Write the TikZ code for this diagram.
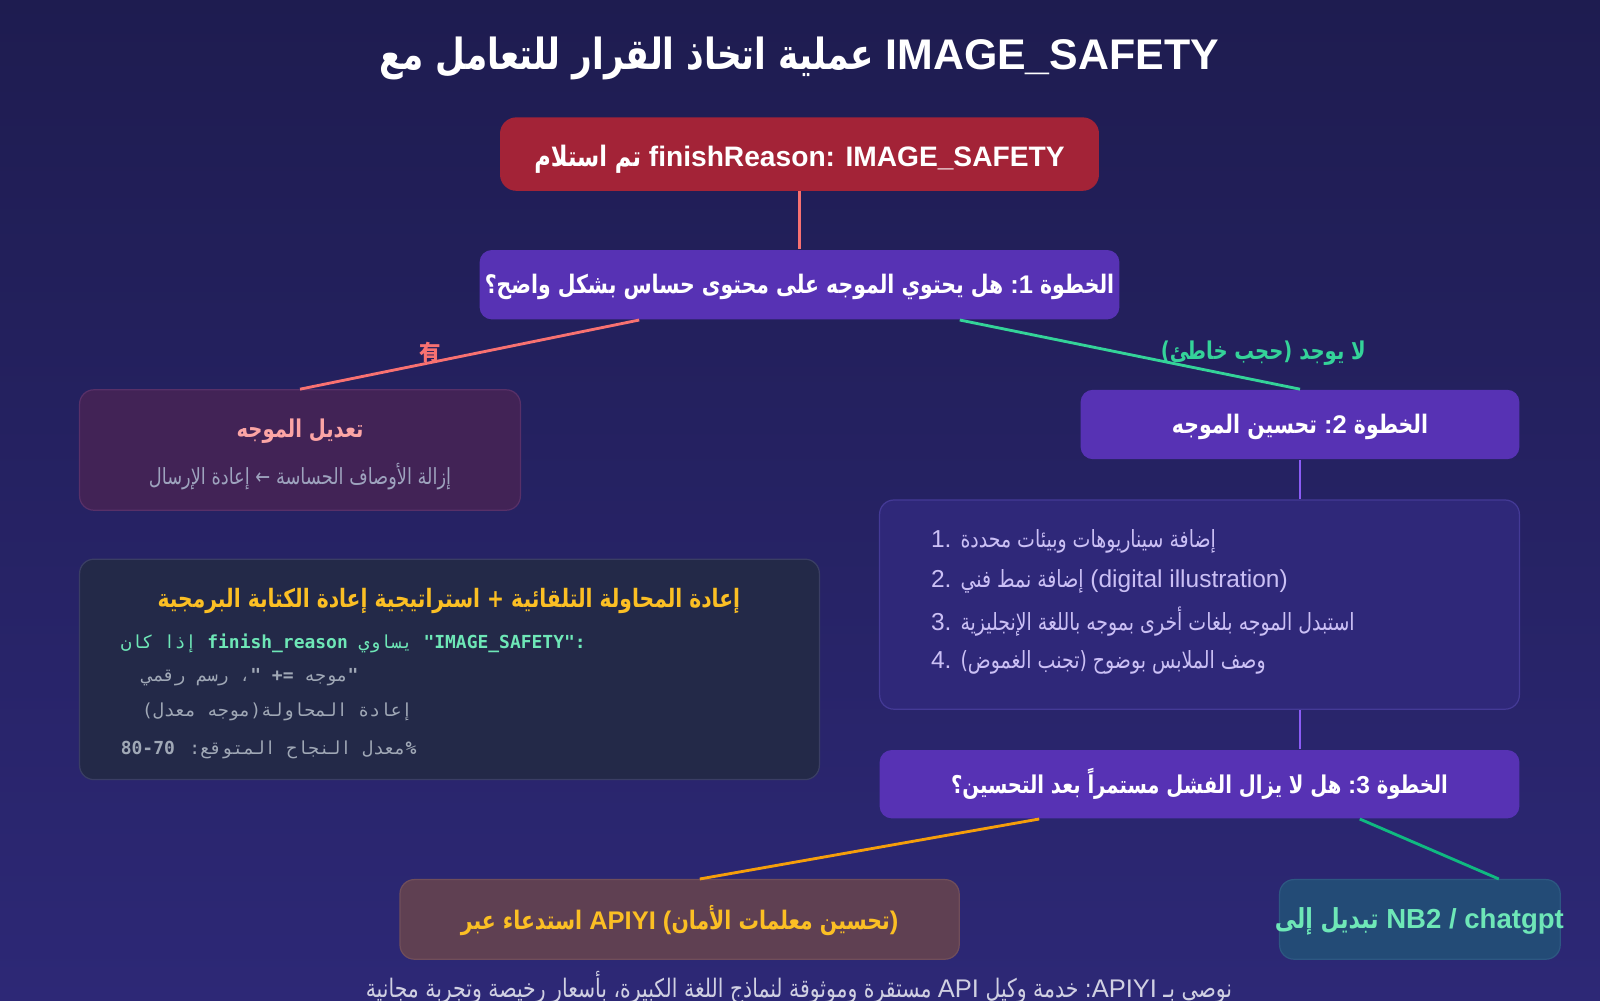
\documentclass[tikz,border=0pt]{standalone}
\usepackage{fontspec}
\setmainfont{Liberation Sans}
\setmonofont{DejaVu Sans Mono}
\newfontfamily\arabicfont[Script=Arabic, FakeStretch=0.8]{DejaVu Sans}
\newfontfamily\arabicmono[Script=Arabic]{DejaVu Sans Mono}
\newfontfamily\cjkfont{Noto Sans CJK SC}
\TeXXeTstate=1
\usetikzlibrary{calc}

\definecolor{bgtop}{RGB}{30,28,80}
\definecolor{bgbottom}{RGB}{45,40,118}
\definecolor{received}{RGB}{163,35,55}
\definecolor{step}{RGB}{87,50,180}
\definecolor{modifyfill}{RGB}{66,35,86}
\definecolor{modifyline}{RGB}{88,48,104}
\definecolor{listfill}{RGB}{47,40,121}
\definecolor{listline}{RGB}{68,58,150}
\definecolor{codefill}{RGB}{35,41,72}
\definecolor{codeline}{RGB}{58,62,100}
\definecolor{apiyifill}{RGB}{95,64,82}
\definecolor{apiyiline}{RGB}{112,78,90}
\definecolor{switchfill}{RGB}{35,75,118}
\definecolor{switchline}{RGB}{45,88,130}
\definecolor{salmon}{RGB}{248,113,113}
\definecolor{pinktext}{RGB}{252,165,165}
\definecolor{mint}{RGB}{52,211,153}
\definecolor{jade}{RGB}{16,185,129}
\definecolor{amber}{RGB}{245,158,11}
\definecolor{gold}{RGB}{251,191,36}
\definecolor{violet}{RGB}{139,92,246}
\definecolor{lavender}{RGB}{203,192,245}
\definecolor{greytext}{RGB}{158,163,190}
\definecolor{codegreen}{RGB}{110,231,183}
\definecolor{codegrey}{RGB}{160,168,182}
\definecolor{footer}{RGB}{208,208,226}

\newcommand\lat[1]{{\ttfamily\bfseries #1}}
\newcommand\arm[1]{{\arabicmono\mdseries #1}}
\newcommand\arl[1]{{\arabicfont\fontsize{11.6}{14}\selectfont\beginR #1\endR}}

\tikzset{
  panel/.style={rectangle, rounded corners=7pt, inner sep=0pt, line width=0.6pt},
  stepbox/.style={panel, fill=step, rounded corners=6pt, text=white,
    text height=10.5pt, text depth=1.5pt,
    font=\arabicfont\bfseries\fontsize{12.5}{14}\selectfont},
  link/.style={line width=1.4pt},
  thinlink/.style={line width=1pt, draw=violet},
  listitem/.style={anchor=west, inner sep=0pt, text=lavender,
    font=\fontsize{12}{14}\selectfont},
  codeitem/.style={anchor=west, inner sep=0pt,
    font=\ttfamily\bfseries\fontsize{8.8}{10}\selectfont}
}

\begin{document}
\begin{tikzpicture}[x=0.5pt,y=-0.5pt]
\useasboundingbox (0,0) rectangle (1568,980);
\clip (0,0) rectangle (1568,980);
\shade[top color=bgtop, bottom color=bgbottom] (0,0) rectangle (1568,980);

% title
\node[anchor=base, text=white, font=\bfseries\fontsize{21}{25}\selectfont] (title) at (783,68)
  {{\arabicfont\beginR عملية اتخاذ القرار للتعامل مع\endR} IMAGE\_SAFETY};

% boxes
\node[panel, fill=received, rounded corners=8pt, minimum width=293.5pt, minimum height=36pt,
  text height=12pt, text depth=0pt,
  text=white, font=\bfseries\fontsize{13.8}{16}\selectfont] (received) at (783.5,151)
  {{\arabicfont\beginR تم استلام\endR} finishReason: IMAGE\_SAFETY};

\node[stepbox, minimum width=313.5pt, minimum height=34pt] (stepone) at (783.5,279)
  {\beginR الخطوة {\rmfamily :1} هل يحتوي الموجه على محتوى حساس بشكل واضح؟\endR};

\node[panel, fill=modifyfill, draw=modifyline, minimum width=216pt, minimum height=59pt] (modify) at (294,441) {};
\node[text=pinktext, font=\arabicfont\bfseries\fontsize{12}{14}\selectfont] (modifytitle) at (294,423)
  {\beginR تعديل الموجه\endR};
\node[text=greytext, font=\arabicfont\fontsize{10.9}{12}\selectfont] (modifytext) at (294,467)
  {\beginR إزالة الأوصاف الحساسة ← إعادة الإرسال\endR};

\node[stepbox, minimum width=215pt, minimum height=34pt] (steptwo) at (1274,416)
  {\beginR الخطوة {\rmfamily :2} تحسين الموجه\endR};

\node[panel, fill=listfill, draw=listline, minimum width=313.5pt, minimum height=102.5pt] (list) at (1175.5,592.5) {};
\node[listitem] (itemone) at (912,531)
  {1. \arl{إضافة سيناريوهات وبيئات محددة}};
\node[listitem] (itemtwo) at (912,570)
  {2. \arl{إضافة نمط فني} (digital illustration)};
\node[listitem] (itemthree) at (912,609)
  {3. \arl{استبدل الموجه بلغات أخرى بموجه باللغة الإنجليزية}};
\node[listitem] (itemfour) at (912,649)
  {4. \arl{وصف الملابس بوضوح (تجنب الغموض)}};

\node[stepbox, minimum width=313.5pt, minimum height=33.5pt, font=\arabicfont\bfseries\fontsize{12}{14}\selectfont] (stepthree) at (1175.5,768.5)
  {\beginR الخطوة {\rmfamily :3} هل لا يزال الفشل مستمراً بعد التحسين؟\endR};

\node[panel, fill=codefill, draw=codeline, minimum width=362.5pt, minimum height=108pt] (code) at (440.5,656) {};
\node[text=gold, font=\arabicfont\bfseries\fontsize{12.4}{14}\selectfont] (codetitle) at (440,589)
  {\beginR إعادة المحاولة التلقائية + استراتيجية إعادة الكتابة البرمجية\endR};
\node[codeitem, text=codegreen] (codeone) at (118,631)
  {\arm{\beginR إذا كان\endR} finish\_reason \arm{\beginR يساوي\endR} "IMAGE\_SAFETY":};
\node[codeitem, text=codegrey] (codetwo) at (139,664)
  {\arm{\beginR موجه \lat{+}\lat{=} \lat{"}، رسم رقمي\endR}"};
\node[codeitem, text=codegrey] (codethree) at (139,698)
  {\arm{\beginR إعادة المحاولة(موجه معدل)\endR}};
\node[codeitem, text=codegrey] (codefour) at (118,735)
  {\arm{\beginR معدل النجاح المتوقع: \lat{80-70}\endR}\%};

\node[panel, fill=apiyifill, draw=apiyiline, minimum width=274pt, minimum height=39pt,
  text height=11pt, text depth=1pt,
  text=gold, font=\bfseries\fontsize{12.5}{15}\selectfont] (apiyi) at (666,901)
  {{\arabicfont\beginR استدعاء عبر\endR} APIYI ({\arabicfont\beginR تحسين معلمات الأمان\endR})};

\node[panel, fill=switchfill, draw=switchline, minimum width=137.5pt, minimum height=39pt] (switch) at (1391.5,901) {};
\node[text=codegreen, font=\bfseries\fontsize{13.5}{16}\selectfont] (switchtext) at (1391,903)
  {{\arabicfont\beginR تبديل إلى\endR} NB2 / chatgpt};

% connectors
\path[link, draw=salmon] (received) edge (stepone);
\draw[link, draw=salmon] ($(stepone.south west)!.25!(stepone.south east)$) -- (modify.north);
\draw[link, draw=mint] ($(stepone.south west)!.75!(stepone.south east)$) -- (steptwo.north);
\draw[thinlink] (steptwo.south) -- (steptwo.south |- list.north);
\draw[thinlink] (steptwo.south |- list.south) -- (steptwo.south |- stepthree.north);
\draw[link, draw=amber] ($(stepthree.south west)!.25!(stepthree.south east)$) -- ($(apiyi.north west)!.536!(apiyi.north east)$);
\draw[link, draw=jade] ($(stepthree.south west)!.75!(stepthree.south east)$) -- ($(switch.north west)!.78!(switch.north east)$);

% labels
\node[text=salmon, font=\cjkfont\bfseries\fontsize{10.5}{12}\selectfont] (yes) at (422,345) {有};
\node[text=mint, font=\arabicfont\bfseries\fontsize{12}{13}\selectfont] (no) at (1238,346)
  {\beginR لا يوجد (حجب خاطئ)\endR};

% footer
\node[text=footer, font=\arabicfont\fontsize{12.5}{14}\selectfont] (note) at (783,968)
  {\beginR نوصي بـ {\rmfamily APIYI}: خدمة وكيل {\rmfamily API} مستقرة وموثوقة لنماذج اللغة الكبيرة، بأسعار رخيصة وتجربة مجانية\endR};
\end{tikzpicture}
\end{document}
